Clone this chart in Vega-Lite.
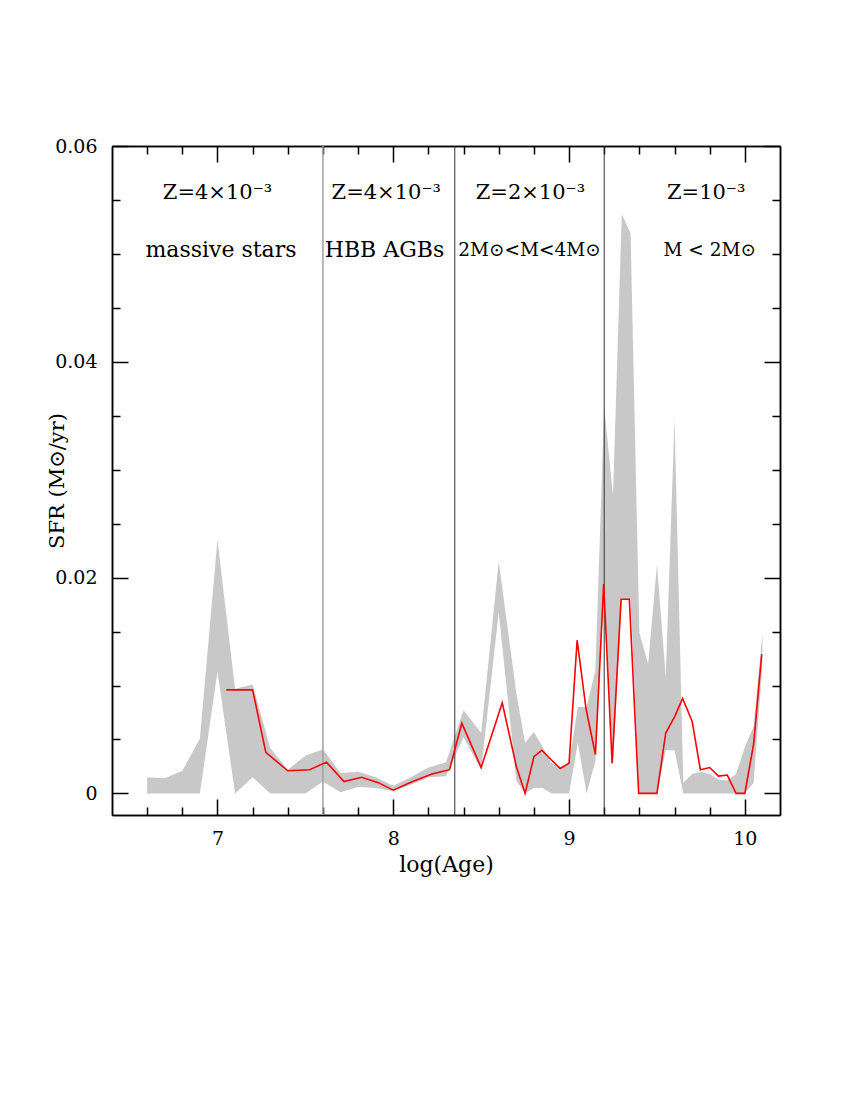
{
  "$schema": "https://vega.github.io/schema/vega-lite/v6.json",
  "autosize": "none",
  "width": 668,
  "height": 669,
  "padding": {"left": 112, "top": 146, "right": 70, "bottom": 285},
  "background": "white",
  "config": {
    "view": {"stroke": null},
    "axis": {
      "grid": false,
      "domainColor": "black",
      "domainWidth": 1.5,
      "tickColor": "black",
      "tickWidth": 1.5,
      "labelFont": "DejaVu Serif",
      "labelFontSize": 19,
      "labelColor": "black",
      "titleFont": "DejaVu Serif",
      "titleFontWeight": "normal",
      "titleColor": "black"
    }
  },
  "datasets": {
    "band": [
      {"age": 6.6, "lo": 0, "hi": 0.0015},
      {"age": 6.7, "lo": 0, "hi": 0.0014},
      {"age": 6.8, "lo": 0, "hi": 0.0021},
      {"age": 6.9, "lo": 0, "hi": 0.0051},
      {"age": 7.0, "lo": 0.0113, "hi": 0.0235},
      {"age": 7.1, "lo": 0, "hi": 0.0097},
      {"age": 7.2, "lo": 0.0015, "hi": 0.0101},
      {"age": 7.3, "lo": 0, "hi": 0.0042},
      {"age": 7.4, "lo": 0, "hi": 0.0022},
      {"age": 7.5, "lo": 0, "hi": 0.0035},
      {"age": 7.6, "lo": 0.0011, "hi": 0.0041},
      {"age": 7.7, "lo": 0.0001, "hi": 0.0019},
      {"age": 7.8, "lo": 0.0006, "hi": 0.0020},
      {"age": 7.9, "lo": 0.0005, "hi": 0.0015},
      {"age": 8.0, "lo": 0.0002, "hi": 0.0007},
      {"age": 8.1, "lo": 0.0008, "hi": 0.0015},
      {"age": 8.2, "lo": 0.0015, "hi": 0.0024},
      {"age": 8.3, "lo": 0.0016, "hi": 0.0029},
      {"age": 8.4, "lo": 0.0052, "hi": 0.0077},
      {"age": 8.5, "lo": 0.0022, "hi": 0.0056},
      {"age": 8.6, "lo": 0.0168, "hi": 0.0215},
      {"age": 8.7, "lo": 0.0012, "hi": 0.0093},
      {"age": 8.75, "lo": 0, "hi": 0.0047},
      {"age": 8.8, "lo": 0.0005, "hi": 0.0057},
      {"age": 8.85, "lo": 0.0005, "hi": 0.0043},
      {"age": 8.9, "lo": 0, "hi": 0.0028},
      {"age": 8.95, "lo": 0, "hi": 0.0025},
      {"age": 9.0, "lo": 0, "hi": 0.0028},
      {"age": 9.05, "lo": 0.0047, "hi": 0.0080},
      {"age": 9.1, "lo": 0, "hi": 0.0080},
      {"age": 9.15, "lo": 0.0030, "hi": 0.0114},
      {"age": 9.2, "lo": 0.0190, "hi": 0.0358},
      {"age": 9.25, "lo": 0.0028, "hi": 0.0276},
      {"age": 9.3, "lo": 0.0180, "hi": 0.0537},
      {"age": 9.35, "lo": 0.0180, "hi": 0.0519},
      {"age": 9.4, "lo": 0, "hi": 0.0149},
      {"age": 9.45, "lo": 0, "hi": 0.0120},
      {"age": 9.5, "lo": 0, "hi": 0.0212},
      {"age": 9.55, "lo": 0.0040, "hi": 0.0108},
      {"age": 9.6, "lo": 0.0040, "hi": 0.0347},
      {"age": 9.65, "lo": 0, "hi": 0.0010},
      {"age": 9.7, "lo": 0, "hi": 0.0018},
      {"age": 9.75, "lo": 0, "hi": 0.0020},
      {"age": 9.8, "lo": 0, "hi": 0.0018},
      {"age": 9.85, "lo": 0, "hi": 0.0013},
      {"age": 9.9, "lo": 0, "hi": 0.0012},
      {"age": 9.95, "lo": 0, "hi": 0.0018},
      {"age": 10.0, "lo": 0, "hi": 0.0043},
      {"age": 10.05, "lo": 0.0010, "hi": 0.0062},
      {"age": 10.1, "lo": 0.0120, "hi": 0.0148}
    ],
    "sfr": [
      {"age": 7.05, "sfr": 0.0096},
      {"age": 7.2, "sfr": 0.0096},
      {"age": 7.275, "sfr": 0.0038},
      {"age": 7.4, "sfr": 0.0021},
      {"age": 7.525, "sfr": 0.0022},
      {"age": 7.62, "sfr": 0.0029},
      {"age": 7.72, "sfr": 0.0011},
      {"age": 7.82, "sfr": 0.0015},
      {"age": 7.915, "sfr": 0.0010},
      {"age": 8.0, "sfr": 0.0003},
      {"age": 8.11, "sfr": 0.0011},
      {"age": 8.22, "sfr": 0.0018},
      {"age": 8.32, "sfr": 0.0022},
      {"age": 8.39, "sfr": 0.0065},
      {"age": 8.5, "sfr": 0.0024},
      {"age": 8.62, "sfr": 0.0084},
      {"age": 8.7, "sfr": 0.0025},
      {"age": 8.75, "sfr": 0.0},
      {"age": 8.8, "sfr": 0.0034},
      {"age": 8.845, "sfr": 0.0040},
      {"age": 8.9, "sfr": 0.0031},
      {"age": 8.95, "sfr": 0.0023},
      {"age": 9.0, "sfr": 0.0028},
      {"age": 9.046, "sfr": 0.0142},
      {"age": 9.097, "sfr": 0.0078},
      {"age": 9.15, "sfr": 0.0036},
      {"age": 9.197, "sfr": 0.0194},
      {"age": 9.245, "sfr": 0.0028},
      {"age": 9.296, "sfr": 0.0180},
      {"age": 9.343, "sfr": 0.0180},
      {"age": 9.396, "sfr": 0.0},
      {"age": 9.5, "sfr": 0.0},
      {"age": 9.55, "sfr": 0.0056},
      {"age": 9.6, "sfr": 0.0071},
      {"age": 9.646, "sfr": 0.0088},
      {"age": 9.7, "sfr": 0.0067},
      {"age": 9.747, "sfr": 0.0022},
      {"age": 9.8, "sfr": 0.0024},
      {"age": 9.85, "sfr": 0.0016},
      {"age": 9.9, "sfr": 0.0017},
      {"age": 9.95, "sfr": 0.0},
      {"age": 10.0, "sfr": 0.0},
      {"age": 10.05, "sfr": 0.0046},
      {"age": 10.096, "sfr": 0.0129}
    ],
    "zlabels": [
      {"age": 7.0, "label": "Z=4×10⁻³"},
      {"age": 7.96, "label": "Z=4×10⁻³"},
      {"age": 8.78, "label": "Z=2×10⁻³"},
      {"age": 9.78, "label": "Z=10⁻³"}
    ],
    "mlabels": [
      {"age": 7.02, "label": "massive stars"},
      {"age": 7.95, "label": "HBB AGBs"}
    ],
    "masslabels": [
      {"age": 8.775, "label": "2M⊙<M<4M⊙"},
      {"age": 9.8, "label": "M  <  2M⊙"}
    ],
    "lightline": [{"age": 7.6}],
    "darklines": [{"age": 8.35}, {"age": 9.2}]
  },
  "layer": [
    {
      "data": {"name": "band"},
      "mark": {"type": "area", "color": "#c8c8c8", "interpolate": "linear"},
      "encoding": {
        "x": {
          "field": "age", "type": "quantitative",
          "scale": {"domain": [6.4, 10.2], "nice": false, "zero": false},
          "axis": {
            "orient": "bottom", "values": [7, 8, 9, 10], "tickSize": -16,
            "labelPadding": 30, "title": "log(Age)", "titleFontSize": 22,
            "titleY": 39, "titleBaseline": "top"
          }
        },
        "y": {
          "field": "lo", "type": "quantitative",
          "scale": {"domain": [-0.002, 0.06], "nice": false, "zero": false},
          "axis": {
            "orient": "left", "values": [0, 0.02, 0.04, 0.06], "tickSize": -16,
            "labelPadding": 31,
            "labelExpr": "datum.value == 0 ? '0' : format(datum.value, '.2f')",
            "title": "SFR (M⊙/yr)", "titleFontSize": 21,
            "titleX": -45, "titleBaseline": "bottom"
          }
        },
        "y2": {"field": "hi"}
      }
    },
    {
      "data": {"name": "lightline"},
      "mark": {"type": "rule", "color": "#a0a0a0", "strokeWidth": 1.5},
      "encoding": {
        "x": {"field": "age", "type": "quantitative", "scale": {"domain": [6.4, 10.2], "nice": false, "zero": false}, "axis": null}
      }
    },
    {
      "data": {"name": "darklines"},
      "mark": {"type": "rule", "color": "#333333", "strokeWidth": 1},
      "encoding": {
        "x": {"field": "age", "type": "quantitative", "scale": {"domain": [6.4, 10.2], "nice": false, "zero": false}, "axis": null}
      }
    },
    {
      "data": {"name": "sfr"},
      "mark": {"type": "line", "color": "#ff0000", "strokeWidth": 1.6},
      "encoding": {
        "x": {
          "field": "age", "type": "quantitative",
          "scale": {"domain": [6.4, 10.2], "nice": false, "zero": false},
          "axis": {
            "orient": "bottom",
            "values": [6.6, 6.8, 7.2, 7.4, 7.6, 7.8, 8.2, 8.4, 8.6, 8.8, 9.2, 9.4, 9.6, 9.8],
            "tickSize": -8, "labels": false, "title": null
          }
        },
        "y": {
          "field": "sfr", "type": "quantitative",
          "scale": {"domain": [-0.002, 0.06], "nice": false, "zero": false},
          "axis": {
            "orient": "left",
            "values": [0.005, 0.01, 0.015, 0.025, 0.03, 0.035, 0.045, 0.05, 0.055],
            "tickSize": -8, "labels": false, "title": null
          }
        }
      }
    },
    {
      "data": {"name": "zlabels"},
      "mark": {"type": "text", "font": "DejaVu Serif", "fontSize": 21, "color": "black", "baseline": "middle", "align": "center"},
      "encoding": {
        "x": {
          "field": "age", "type": "quantitative",
          "scale": {"domain": [6.4, 10.2], "nice": false, "zero": false},
          "axis": {"orient": "top", "values": [7, 8, 9, 10], "tickSize": -16, "labels": false, "title": null}
        },
        "y": {
          "datum": 0.0556, "type": "quantitative",
          "scale": {"domain": [-0.002, 0.06], "nice": false, "zero": false},
          "axis": {"orient": "right", "values": [0, 0.02, 0.04, 0.06], "tickSize": -16, "labels": false, "title": null}
        },
        "text": {"field": "label"}
      }
    },
    {
      "data": {"name": "mlabels"},
      "mark": {"type": "text", "font": "DejaVu Serif", "fontSize": 22, "color": "black", "baseline": "middle", "align": "center"},
      "encoding": {
        "x": {
          "field": "age", "type": "quantitative",
          "scale": {"domain": [6.4, 10.2], "nice": false, "zero": false},
          "axis": {
            "orient": "top",
            "values": [6.6, 6.8, 7.2, 7.4, 7.6, 7.8, 8.2, 8.4, 8.6, 8.8, 9.2, 9.4, 9.6, 9.8],
            "tickSize": -8, "labels": false, "title": null
          }
        },
        "y": {
          "datum": 0.0504, "type": "quantitative",
          "scale": {"domain": [-0.002, 0.06], "nice": false, "zero": false},
          "axis": {
            "orient": "right",
            "values": [0.005, 0.01, 0.015, 0.025, 0.03, 0.035, 0.045, 0.05, 0.055],
            "tickSize": -8, "labels": false, "title": null
          }
        },
        "text": {"field": "label"}
      }
    },
    {
      "data": {"name": "masslabels"},
      "mark": {"type": "text", "font": "DejaVu Serif", "fontSize": 18.5, "color": "black", "baseline": "middle", "align": "center"},
      "encoding": {
        "x": {"field": "age", "type": "quantitative", "scale": {"domain": [6.4, 10.2], "nice": false, "zero": false}, "axis": null},
        "y": {"datum": 0.0504, "type": "quantitative", "scale": {"domain": [-0.002, 0.06], "nice": false, "zero": false}, "axis": null},
        "text": {"field": "label"}
      }
    }
  ],
  "resolve": {"axis": {"x": "independent", "y": "independent"}}
}
